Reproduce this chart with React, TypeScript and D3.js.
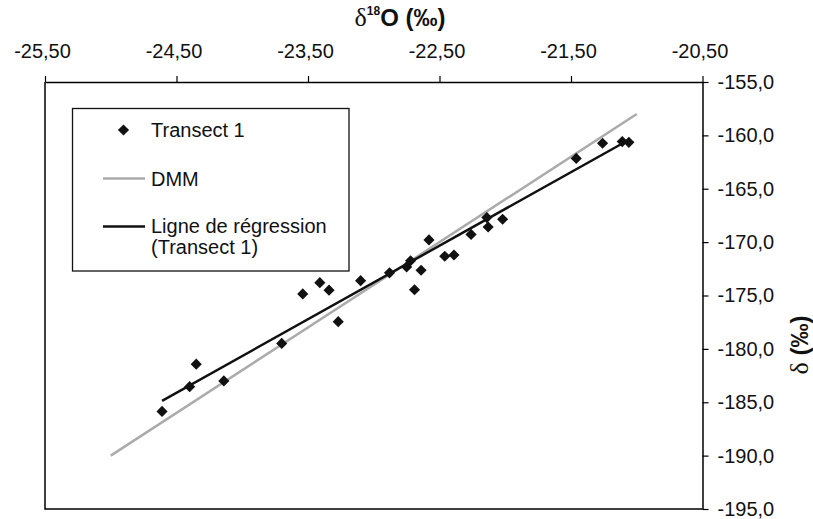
import { useEffect, useRef } from 'react';
import * as d3 from 'd3';

// δ18O (‰) and δ (‰) of the Transect 1 samples
const transectO18 = [
  -24.61, -24.40, -24.35, -24.14, -23.70, -23.54, -23.41, -23.34, -23.27,
  -23.10, -22.88, -22.75, -22.72, -22.69, -22.64, -22.58, -22.46, -22.39,
  -22.26, -22.14, -22.13, -22.02, -21.46, -21.26, -21.11, -21.06,
];
const transectD = [
  -185.86, -183.54, -181.43, -183.0, -179.49, -174.85, -173.8, -174.5, -177.45,
  -173.61, -172.88, -172.32, -171.74, -174.46, -172.63, -169.79, -171.32, -171.21,
  -169.28, -167.7, -168.58, -167.86, -162.16, -160.74, -160.58, -160.65,
];

// DMM (droite météorique mondiale) end points
const dmmO18 = [-25.0, -21.0];
const dmmD = [-190.0, -158.0];

// regression line end points (Transect 1)
const regO18 = [-24.61, -21.12];
const regD = [-184.87, -160.83];

const xTicks = [-25.5, -24.5, -23.5, -22.5, -21.5, -20.5];
const yTicks = [-155, -160, -165, -170, -175, -180, -185, -190, -195];

const legendLabels = ['Transect 1', 'DMM', 'Ligne de régression', '(Transect 1)'];

const W = 813;
const H = 519;
const FONT = '"Liberation Sans", Arial, Helvetica, sans-serif';

const App = () => {
  const svgRef = useRef<SVGSVGElement | null>(null);

  useEffect(() => {
    const svg = d3.select(svgRef.current);
    svg.selectAll('*').remove();

    const left = 45, right = 702.5, top = 82, bottom = 509;

    const x = d3.scaleLinear().domain([-25.5, -20.5]).range([left, right]);
    const y = d3.scaleLinear().domain([-155, -195]).range([top, bottom]);

    const locale = d3.formatLocale({
      decimal: ',',
      thousands: '.',
      grouping: [3],
      currency: ['', '€'],
      minus: '-',
    });

    // plot frame (left + bottom)
    svg.append('path')
      .attr('d', `M${left},${top}V${bottom}H${right}`)
      .attr('fill', 'none')
      .attr('stroke', '#000')
      .attr('stroke-width', 1.5);

    // top axis
    const gx = svg.append('g')
      .attr('transform', `translate(0,${top})`)
      .call(d3.axisTop(x).tickValues(xTicks).tickSize(6).tickSizeOuter(0).tickPadding(18)
        .tickFormat(d => locale.format('.2f')(d as number)));
    gx.select('.domain').attr('stroke-width', 1.5);
    gx.selectAll('.tick line').attr('stroke-width', 1.2);
    gx.selectAll('.tick text')
      .attr('font-family', FONT)
      .attr('font-size', 20)
      .attr('dx', -3)
      .attr('fill', '#111');

    // right axis
    const gy = svg.append('g')
      .attr('transform', `translate(${right},0)`)
      .call(d3.axisRight(y).tickValues(yTicks).tickSize(6).tickSizeOuter(0).tickPadding(9)
        .tickFormat(d => locale.format('.1f')(d as number)));
    gy.select('.domain').attr('stroke-width', 1.5);
    gy.selectAll('.tick line').attr('stroke-width', 1.2);
    gy.selectAll('.tick text')
      .attr('font-family', FONT)
      .attr('font-size', 20)
      .attr('fill', '#111');

    // axis titles
    const tx = svg.append('text')
      .attr('x', 400)
      .attr('y', 26)
      .attr('text-anchor', 'middle')
      .attr('fill', '#111');
    tx.append('tspan').attr('font-family', '"Liberation Serif", serif').attr('font-size', 26).text('δ');
    tx.append('tspan').attr('font-family', FONT).attr('font-weight', 'bold').attr('font-size', 12).attr('dy', -11).text('18');
    tx.append('tspan').attr('font-family', FONT).attr('font-weight', 'bold').attr('font-size', 24).attr('dy', 11).text('O (‰)');

    const ty = svg.append('text')
      .attr('transform', 'translate(808,345) rotate(-90)')
      .attr('text-anchor', 'middle')
      .attr('fill', '#111');
    ty.append('tspan').attr('font-family', '"Liberation Serif", serif').attr('font-size', 26).text('δ ');
    ty.append('tspan').attr('font-family', FONT).attr('font-weight', 'bold').attr('font-size', 24).text('(‰)');

    const line = d3.line<[number, number]>().x(d => x(d[0])).y(d => y(d[1]));

    // DMM
    svg.append('path')
      .attr('d', line(dmmO18.map((v, i) => [v, dmmD[i]] as [number, number])))
      .attr('fill', 'none')
      .attr('stroke', '#ababab')
      .attr('stroke-width', 2.5);

    // regression
    svg.append('path')
      .attr('d', line(regO18.map((v, i) => [v, regD[i]] as [number, number])))
      .attr('fill', 'none')
      .attr('stroke', '#111')
      .attr('stroke-width', 2.5);

    // points
    const diamond = d3.symbol().type(d3.symbolSquare).size(62);
    svg.append('g')
      .selectAll('path')
      .data(transectO18.map((v, i) => [v, transectD[i]]))
      .enter()
      .append('path')
      .attr('d', diamond() as string)
      .attr('transform', d => `translate(${x(d[0])},${y(d[1])}) rotate(45)`)
      .attr('fill', '#111');

    // legend
    const lg = svg.append('g');
    lg.append('rect')
      .attr('x', 72.5).attr('y', 108.5)
      .attr('width', 276.5).attr('height', 162.5)
      .attr('fill', '#fff')
      .attr('stroke', '#111')
      .attr('stroke-width', 1.3);
    lg.append('path')
      .attr('d', diamond() as string)
      .attr('transform', 'translate(123.5,130) rotate(45)')
      .attr('fill', '#111');
    lg.append('line')
      .attr('x1', 103).attr('x2', 145).attr('y1', 178.5).attr('y2', 178.5)
      .attr('stroke', '#ababab').attr('stroke-width', 2.5);
    lg.append('line')
      .attr('x1', 103).attr('x2', 145).attr('y1', 226.5).attr('y2', 226.5)
      .attr('stroke', '#111').attr('stroke-width', 2.5);
    const textY = [137, 186, 233, 253.5];
    lg.selectAll('text.lab')
      .data(legendLabels)
      .enter()
      .append('text')
      .attr('class', 'lab')
      .attr('x', 151)
      .attr('y', (d, i) => textY[i])
      .attr('font-family', FONT)
      .attr('font-size', 20)
      .attr('fill', '#111')
      .text(d => d);
  }, []);

  return (
    <svg
      ref={svgRef}
      width={W}
      height={H}
      style={{ position: 'absolute', left: 0, top: 0, background: '#fff' }}
    />
  );
};

export default App;
